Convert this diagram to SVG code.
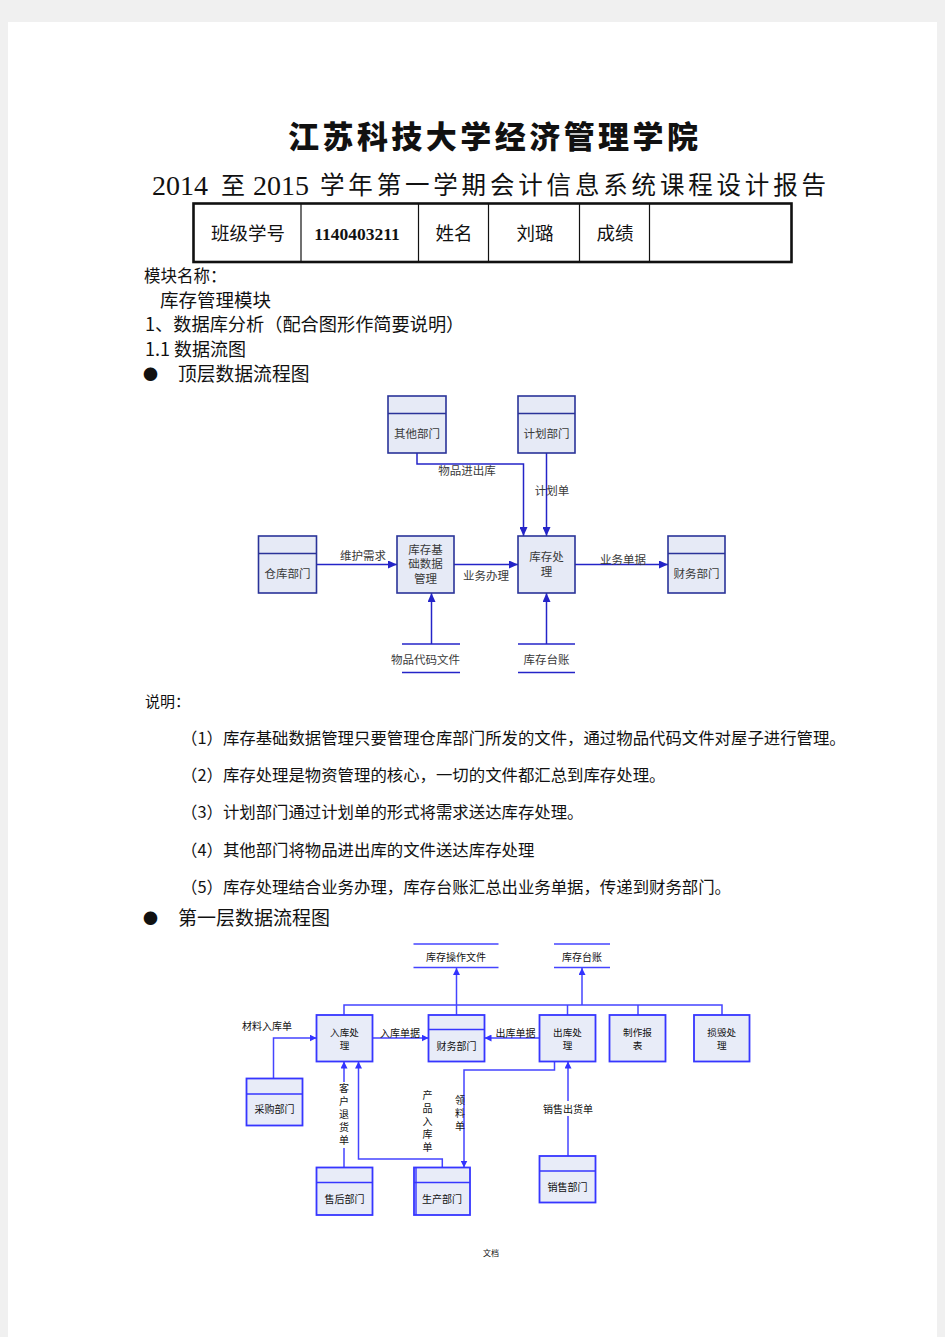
<svg xmlns="http://www.w3.org/2000/svg" width="945" height="1337" viewBox="0 0 945 1337">
<style>
.cjk{font-family:"Noto Sans CJK SC","Noto Sans",sans-serif}
.t1box{fill:#e6eaf6;stroke:#2a3399;stroke-width:1.6}
.t1div{stroke:#2a3399;stroke-width:1.4}
.t1line{stroke:#2424c8;stroke-width:1.5;fill:none}
.t1txt{font-family:"Noto Sans CJK SC",sans-serif;font-size:11.5px;fill:#3a3a3a;text-anchor:middle;dominant-baseline:central}
.b2box{fill:#e8ecf8;stroke:#3636ff;stroke-width:1.8}
.b2div{stroke:#3636ff;stroke-width:1.4}
.b2line{stroke:#4444ff;stroke-width:1.5;fill:none}
.b2txt{font-family:"Noto Sans CJK SC",sans-serif;font-size:10px;fill:#111;text-anchor:middle;dominant-baseline:central}
.b2box2{font-family:"Noto Sans CJK SC",sans-serif;font-size:9.6px;fill:#111;text-anchor:middle;dominant-baseline:central}
.vert{font-family:"Noto Sans CJK SC",sans-serif;font-size:10px;fill:#111;writing-mode:vertical-rl;text-anchor:start;letter-spacing:3px}
.body{font-family:"Noto Sans CJK SC",sans-serif;fill:#111}
</style>
<defs>
<marker id="a1" markerUnits="userSpaceOnUse" markerWidth="9" markerHeight="8" refX="9" refY="4" orient="auto"><path d="M0,0 L9,4 L0,8 z" fill="#2424c8"/></marker>
<marker id="a2" markerUnits="userSpaceOnUse" markerWidth="7" markerHeight="7" refX="7" refY="3.5" orient="auto"><path d="M0,0 L7,3.5 L0,7 z" fill="#3333ff"/></marker>
</defs>
<rect x="0" y="0" width="945" height="1337" fill="#f0f0f0"/>
<rect x="8" y="22" width="929" height="1315" fill="#ffffff"/>

<!-- header -->
<text x="288" y="148" class="cjk" font-size="31" font-weight="900" textLength="410" lengthAdjust="spacing" fill="#111">江苏科技大学经济管理学院</text>
<text x="152" y="195" font-family="Liberation Serif, serif" font-size="28" fill="#111">2014</text>
<text x="221" y="194" class="cjk" font-size="24" fill="#111">至</text>
<text x="253" y="195" font-family="Liberation Serif, serif" font-size="28" fill="#111">2015</text>
<text x="320" y="194" class="cjk" font-size="24.5" textLength="506" lengthAdjust="spacing" fill="#111">学年第一学期会计信息系统课程设计报告</text>

<g id="table">
<rect x="193.5" y="203.5" width="598" height="58.5" fill="none" stroke="#111" stroke-width="2.6"/>
<g stroke="#111" stroke-width="1.2">
<line x1="301" y1="203.5" x2="301" y2="262"/>
<line x1="418.5" y1="203.5" x2="418.5" y2="262"/>
<line x1="488.5" y1="203.5" x2="488.5" y2="262"/>
<line x1="579.5" y1="203.5" x2="579.5" y2="262"/>
<line x1="649.5" y1="203.5" x2="649.5" y2="262"/>
</g>
<g class="cjk" font-size="18.5" fill="#111" text-anchor="middle">
<text x="248" y="240">班级学号</text>
<text x="454" y="240">姓名</text>
<text x="535" y="240">刘璐</text>
<text x="615" y="240">成绩</text>
</g>
<text x="357" y="240" font-family="Liberation Serif, serif" font-weight="bold" font-size="17.5" text-anchor="middle" fill="#111">1140403211</text>
</g>

<text x="144" y="282" class="body" font-size="16.5">模块名称：</text>
<text x="160" y="306.5" class="body" font-size="18.5">库存管理模块</text>
<text x="145" y="331" class="body" font-size="18.2">1、数据库分析（配合图形作简要说明）</text>
<text x="145" y="356" class="body" font-size="18">1.1 数据流图</text>
<text x="143" y="380" class="body" font-size="15">●</text>
<text x="178" y="381" class="body" font-size="18.8" fill="#666">顶层数据流程图</text>

<!-- top diagram -->
<g id="top-connectors">
<path class="t1line" d="M417,453 V464 H523.5 V536" marker-end="url(#a1)"/>
<path class="t1line" d="M546.5,453 V536" marker-end="url(#a1)"/>
<path class="t1line" d="M316.5,564.5 H397" marker-end="url(#a1)"/>
<path class="t1line" d="M454,564.5 H518" marker-end="url(#a1)"/>
<path class="t1line" d="M575,564.5 H668" marker-end="url(#a1)"/>
<path class="t1line" d="M431.5,644 V593" marker-end="url(#a1)"/>
<path class="t1line" d="M546.5,644 V593" marker-end="url(#a1)"/>
<text class="t1txt" x="467" y="469.5">物品进出库</text>
<text class="t1txt" x="552" y="489.5" text-anchor="start">计划单</text>
<text class="t1txt" x="363" y="555">维护需求</text>
<text class="t1txt" x="486" y="575">业务办理</text>
<text class="t1txt" x="623" y="558.5">业务单据</text>
</g>
<g id="t-qita"><rect class="t1box" x="388" y="396" width="58" height="57"/><line class="t1div" x1="388" y1="413.5" x2="446" y2="413.5"/><text class="t1txt" x="417" y="433">其他部门</text></g>
<g id="t-jihua"><rect class="t1box" x="518" y="396" width="57" height="57"/><line class="t1div" x1="518" y1="413.5" x2="575" y2="413.5"/><text class="t1txt" x="546.5" y="433">计划部门</text></g>
<g id="t-cangku"><rect class="t1box" x="258.5" y="536" width="58" height="57"/><line class="t1div" x1="258.5" y1="553.5" x2="316.5" y2="553.5"/><text class="t1txt" x="287.5" y="573">仓库部门</text></g>
<g id="t-jichu"><rect class="t1box" x="397" y="536" width="57" height="57"/><text class="t1txt"><tspan x="425.5" y="548.5">库存基</tspan><tspan x="425.5" y="562.5">础数据</tspan><tspan x="425.5" y="578">管理</tspan></text></g>
<g id="t-chuli"><rect class="t1box" x="518" y="536" width="57" height="57"/><text class="t1txt"><tspan x="546.5" y="556">库存处</tspan><tspan x="546.5" y="571">理</tspan></text></g>
<g id="t-caiwu"><rect class="t1box" x="668" y="536" width="57" height="57"/><line class="t1div" x1="668" y1="553.5" x2="725" y2="553.5"/><text class="t1txt" x="696.5" y="573">财务部门</text></g>
<g id="t-wpdm"><line class="t1line" x1="402" y1="644" x2="460" y2="644"/><line class="t1line" x1="402" y1="672.5" x2="460" y2="672.5"/><text class="t1txt" x="425.5" y="658.5">物品代码文件</text></g>
<g id="t-kctz"><line class="t1line" x1="518" y1="644" x2="575" y2="644"/><line class="t1line" x1="518" y1="672.5" x2="575" y2="672.5"/><text class="t1txt" x="546.5" y="658.5">库存台账</text></g>

<!-- explanations -->
<text x="145" y="707" class="body" font-size="15">说明：</text>
<g class="body" font-size="16.4">
<text x="181" y="744">（1）库存基础数据管理只要管理仓库部门所发的文件，通过物品代码文件对屋子进行管理。</text>
<text x="181" y="781">（2）库存处理是物资管理的核心，一切的文件都汇总到库存处理。</text>
<text x="181" y="818">（3）计划部门通过计划单的形式将需求送达库存处理。</text>
<text x="181" y="856">（4）其他部门将物品进出库的文件送达库存处理</text>
<text x="181" y="893">（5）库存处理结合业务办理，库存台账汇总出业务单据，传递到财务部门。</text>
</g>
<text x="143" y="924" class="body" font-size="15">●</text>
<text x="178" y="925" class="body" font-size="19" fill="#666">第一层数据流程图</text>

<!-- bottom diagram -->
<g id="bottom-connectors">
<path class="b2line" d="M344,1015 V1005 H722 V1015"/>
<path class="b2line" d="M567.5,1005 V1015"/>
<path class="b2line" d="M638,1005 V1015"/>
<path class="b2line" d="M456.5,1015 V968" marker-end="url(#a2)"/>
<path class="b2line" d="M582,1005 V968" marker-end="url(#a2)"/>
<path class="b2line" d="M273.5,1078.5 V1038 H316.5" marker-end="url(#a2)"/>
<path class="b2line" d="M372.5,1038 H428.5" marker-end="url(#a2)"/>
<path class="b2line" d="M539.5,1038 H484.5" marker-end="url(#a2)"/>
<path class="b2line" d="M344,1167.5 V1061.5" marker-end="url(#a2)"/>
<path class="b2line" d="M442.3,1167.5 V1159 H358.5 V1061.5" marker-end="url(#a2)"/>
<path class="b2line" d="M554.5,1061.5 V1070 H464 V1167.5" marker-end="url(#a2)"/>
<path class="b2line" d="M568,1156 V1061.5" marker-end="url(#a2)"/>
<text class="b2txt" x="267" y="1025">材料入库单</text>
<text class="b2txt" x="400" y="1032">入库单据</text>
<text class="b2txt" x="515.5" y="1032">出库单据</text>
<rect x="337" y="1082" width="14" height="66" fill="#fff"/>
<text class="vert" x="344" y="1083">客户退货单</text>
<text class="vert" x="427.5" y="1090">产品入库单</text>
<text class="vert" x="460" y="1095" letter-spacing="2.5">领料单</text>
<rect x="538" y="1101" width="60" height="15" fill="#fff"/>
<text class="b2txt" x="568" y="1108.5">销售出货单</text>
</g>
<g id="b-czwj"><line class="b2line" x1="413.5" y1="944" x2="498.5" y2="944"/><line class="b2line" x1="413.5" y1="967.5" x2="498.5" y2="967.5"/><text class="b2txt" x="456" y="956">库存操作文件</text></g>
<g id="b-kctz"><line class="b2line" x1="554" y1="944" x2="610" y2="944"/><line class="b2line" x1="554" y1="967.5" x2="610" y2="967.5"/><text class="b2txt" x="582" y="956">库存台账</text></g>
<g id="b-ruku"><rect class="b2box" x="316.5" y="1015" width="56" height="46.5"/><text class="b2box2"><tspan x="344.5" y="1032">入库处</tspan><tspan x="344.5" y="1045">理</tspan></text></g>
<g id="b-caiwu"><rect class="b2box" x="428.5" y="1015" width="56" height="46.5"/><line class="b2div" x1="428.5" y1="1029.5" x2="484.5" y2="1029.5"/><text class="b2txt" x="456.5" y="1045">财务部门</text></g>
<g id="b-chuku"><rect class="b2box" x="539.5" y="1015" width="56" height="46.5"/><text class="b2box2"><tspan x="567.5" y="1032">出库处</tspan><tspan x="567.5" y="1045">理</tspan></text></g>
<g id="b-zhizuo"><rect class="b2box" x="609.5" y="1015" width="56" height="46.5"/><text class="b2box2"><tspan x="637.5" y="1032">制作报</tspan><tspan x="637.5" y="1045">表</tspan></text></g>
<g id="b-sunhui"><rect class="b2box" x="694" y="1015" width="55.5" height="46.5"/><text class="b2box2"><tspan x="721.7" y="1032">损毁处</tspan><tspan x="721.7" y="1045">理</tspan></text></g>
<g id="b-caigou"><rect class="b2box" x="246.5" y="1078.5" width="56" height="47"/><line class="b2div" x1="246.5" y1="1094" x2="302.5" y2="1094"/><text class="b2txt" x="274.5" y="1108.5">采购部门</text></g>
<g id="b-shouhou"><rect class="b2box" x="316.5" y="1167.5" width="56" height="47.5"/><line class="b2div" x1="316.5" y1="1182.5" x2="372.5" y2="1182.5"/><text class="b2txt" x="344.5" y="1198.5">售后部门</text></g>
<g id="b-shengchan"><rect class="b2box" x="414" y="1167.5" width="56" height="47.5"/><line class="b2div" x1="416" y1="1167.5" x2="416" y2="1215"/><line class="b2div" x1="414" y1="1182.5" x2="470" y2="1182.5"/><text class="b2txt" x="442" y="1198.5">生产部门</text></g>
<g id="b-xiaoshou"><rect class="b2box" x="539.5" y="1156" width="56" height="46.5"/><line class="b2div" x1="539.5" y1="1171" x2="595.5" y2="1171"/><text class="b2txt" x="567.5" y="1186">销售部门</text></g>

<text x="491" y="1256" class="body" font-size="8" fill="#777" text-anchor="middle">文档</text>
</svg>
